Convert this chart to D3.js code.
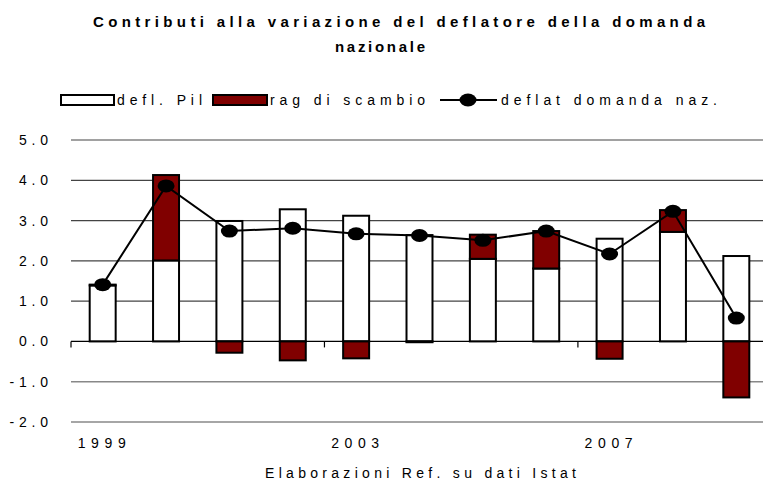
<!DOCTYPE html>
<html>
<head>
<meta charset="utf-8">
<script src="https://cdn.jsdelivr.net/npm/d3@7"></script>
<style>
  html, body { margin: 0; padding: 0; background: #fff; }
  text { font-family: "Liberation Sans", Arial, sans-serif; }
</style>
</head>
<body>
<svg id="chart" width="763" height="484"></svg>
<script>
const years = ["1999","2000","2001","2002","2003","2004","2005","2006","2007","2008","2009"];
const deflPil = [1.39, 2.01, 2.99, 3.28, 3.12, 2.64, 2.05, 1.81, 2.55, 2.72, 2.12];
const ragScambio = [0.02, 2.12, -0.28, -0.47, -0.42, -0.02, 0.60, 0.93, -0.43, 0.54, -1.39];
const deflatDomanda = [1.41, 3.86, 2.74, 2.81, 2.67, 2.63, 2.51, 2.74, 2.17, 3.23, 0.58];
const yTicks = [-2, -1, 0, 1, 2, 3, 4, 5];
const yTickLabels = ["-2.0", "-1.0", "0.0", "1.0", "2.0", "3.0", "4.0", "5.0"];
const xTickYears = ["1999", "2003", "2007"];

const svg = d3.select("#chart");
const x = d3.scaleBand().domain(years).range([71, 768]).paddingInner(0.59).paddingOuter(0.295);
const y = d3.scaleLinear().domain([-2, 5]).range([422, 140]);
const step = x.step();
const gap = (step - x.bandwidth()) / 2;

// Title
const title = svg.append("g").attr("font-weight", "bold").attr("font-size", 15).attr("fill", "#000");
title.append("text").attr("x", 93).attr("y", 27)
  .attr("textLength", 612).attr("lengthAdjust", "spacing")
  .text("Contributi alla variazione del deflatore della domanda");
title.append("text").attr("x", 380).attr("y", 52).attr("text-anchor", "middle")
  .attr("textLength", 90).attr("lengthAdjust", "spacing")
  .text("nazionale");

// Gridlines
svg.append("g").selectAll("line").data(yTicks.filter(d => d !== 0)).join("line")
  .attr("x1", 71).attr("x2", 763)
  .attr("y1", d => y(d)).attr("y2", d => y(d))
  .attr("stroke", d => d < 0 ? "#888" : "#444")
  .attr("stroke-width", d => d < 0 ? 1.6 : 1.2);

// y labels
const ls = 4.8;
const yAxis = d3.axisLeft(y).tickValues(yTicks).tickSize(0)
  .tickFormat((d, i) => yTickLabels[i]);
const ya = svg.append("g").attr("transform", `translate(${48 + ls},0)`).call(yAxis);
ya.select(".domain").remove();
ya.selectAll("text").attr("font-size", 14).attr("letter-spacing", ls)
  .attr("font-family", "Liberation Sans, Arial, sans-serif").attr("fill", "#000").attr("x", 0);

// Bars: defl Pil
const bars = svg.append("g");
bars.selectAll("rect.pil").data(years).join("rect").attr("class", "pil")
  .attr("x", d => x(d)).attr("width", x.bandwidth())
  .attr("y", (d, i) => y(Math.max(0, deflPil[i])))
  .attr("height", (d, i) => Math.abs(y(deflPil[i]) - y(0)))
  .attr("fill", "#fff").attr("stroke", "#000").attr("stroke-width", 2);

// Bars: ragioni di scambio (stacked on positives, below zero when negative)
bars.selectAll("rect.rag").data(years).join("rect").attr("class", "rag")
  .attr("x", d => x(d)).attr("width", x.bandwidth())
  .attr("y", (d, i) => ragScambio[i] >= 0 ? y(deflPil[i] + ragScambio[i]) : y(0))
  .attr("height", (d, i) => ragScambio[i] >= 0
      ? y(deflPil[i]) - y(deflPil[i] + ragScambio[i])
      : y(ragScambio[i]) - y(0))
  .attr("fill", "#800000").attr("stroke", "#000").attr("stroke-width", 2);

// Zero axis line and ticks
svg.append("line").attr("x1", 71).attr("x2", 763).attr("y1", y(0)).attr("y2", y(0))
  .attr("stroke", "#000").attr("stroke-width", 1.2);
svg.append("g").selectAll("line").data(xTickYears).join("line")
  .attr("x1", d => x(d) - gap).attr("x2", d => x(d) - gap)
  .attr("y1", y(0)).attr("y2", y(0) + 6)
  .attr("stroke", "#000").attr("stroke-width", 1.2);

// Line
const line = d3.line().x((d, i) => x(years[i]) + x.bandwidth() / 2).y(d => y(d));
svg.append("path").datum(deflatDomanda).attr("d", line)
  .attr("fill", "none").attr("stroke", "#000").attr("stroke-width", 2);
svg.append("g").selectAll("ellipse").data(deflatDomanda).join("ellipse")
  .attr("cx", (d, i) => x(years[i]) + x.bandwidth() / 2).attr("cy", d => y(d))
  .attr("rx", 8.5).attr("ry", 6.5).attr("fill", "#000");

// X labels
svg.append("g").selectAll("text").data(xTickYears).join("text")
  .attr("x", d => x(d) + x.bandwidth() / 2 - 1).attr("y", 448)
  .attr("text-anchor", "middle").attr("font-size", 14)
  .attr("textLength", 48).attr("lengthAdjust", "spacing")
  .attr("fill", "#000").text(d => d);

// Footer
svg.append("text").attr("x", 265).attr("y", 478)
  .attr("font-size", 14).attr("textLength", 311).attr("lengthAdjust", "spacing").attr("fill", "#000")
  .text("Elaborazioni Ref. su dati Istat");

// Legend
const lg = svg.append("g").attr("font-size", 14).attr("fill", "#000");
lg.append("rect").attr("x", 61).attr("y", 95).attr("width", 53).attr("height", 10)
  .attr("fill", "#fff").attr("stroke", "#000").attr("stroke-width", 2);
lg.append("text").attr("x", 117).attr("y", 105)
  .attr("textLength", 85).attr("lengthAdjust", "spacing").text("defl. Pil");
lg.append("rect").attr("x", 213).attr("y", 95).attr("width", 54).attr("height", 10)
  .attr("fill", "#800000").attr("stroke", "#000").attr("stroke-width", 2);
lg.append("text").attr("x", 270).attr("y", 105)
  .attr("textLength", 155).attr("lengthAdjust", "spacing").text("rag di scambio");
lg.append("line").attr("x1", 440).attr("x2", 497).attr("y1", 100).attr("y2", 100)
  .attr("stroke", "#000").attr("stroke-width", 2);
lg.append("ellipse").attr("cx", 468).attr("cy", 100).attr("rx", 8.5).attr("ry", 6.5).attr("fill", "#000");
lg.append("text").attr("x", 501).attr("y", 105)
  .attr("textLength", 216).attr("lengthAdjust", "spacing").text("deflat domanda naz.");
</script>
</body>
</html>
